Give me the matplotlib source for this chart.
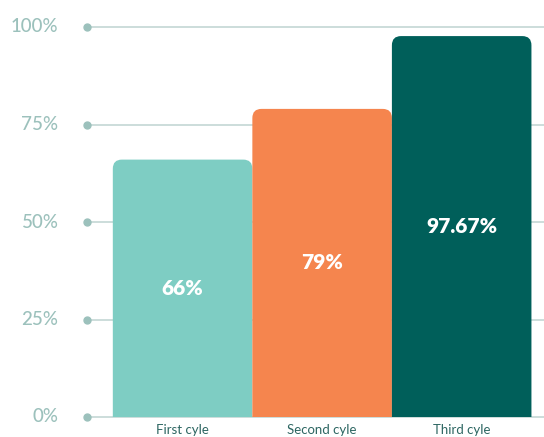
import matplotlib.pyplot as plt
from matplotlib.patches import FancyBboxPatch

categories = ['First cyle', 'Second cyle', 'Third cyle']
values = [66, 79, 97.67]
value_labels = ['66%', '79%', '97.67%']
yticks = [0, 25, 50, 75, 100]
ytick_labels = ['0%', '25%', '50%', '75%', '100%']
colors = ['#7ecdc3', '#f5854e', '#005f5a']

plt.rcParams['font.family'] = ['Lato', 'DejaVu Sans']

fig = plt.figure(figsize=(5.44, 4.37), dpi=100)
ax = fig.add_axes([87 / 544, 20 / 437, 1 - 87 / 544, 390 / 437])
ax.set_xlim(-0.685, 2.59)
ax.set_ylim(0, 100)
ax.axis('off')

grid_color = '#c3d7d4'
x0 = ax.get_xlim()[0]
for t, lab in zip(yticks, ytick_labels):
    ax.axhline(t, color=grid_color, lw=1.2, zorder=1, clip_on=False)
    ax.plot([x0], [t], 'o', color='#9cc1bc', ms=5, zorder=2, clip_on=False)
    ax.text(-0.89, t, lab, ha='right', va='center', fontsize=13.5,
            color='#9cc1bc', fontweight='medium', clip_on=False)

width = 1.0
rad = 0.065
aspect = 36
for i, (v, c) in enumerate(zip(values, colors)):
    patch = FancyBboxPatch((i - width / 2 + rad, -10), width - 2 * rad, v + 10 - rad * aspect,
                           boxstyle=f'round,pad={rad}', mutation_aspect=aspect,
                           fc=c, ec='none', zorder=3)
    ax.add_patch(patch)
    ax.text(i, v / 2, value_labels[i], ha='center', va='center', color='white',
            fontsize=15, fontweight='heavy', zorder=4)
    ax.text(i, -3.3, categories[i], ha='center', va='center', color='#2d6662',
            fontsize=9.5, clip_on=False)

fig.savefig('out.png', dpi=100)
